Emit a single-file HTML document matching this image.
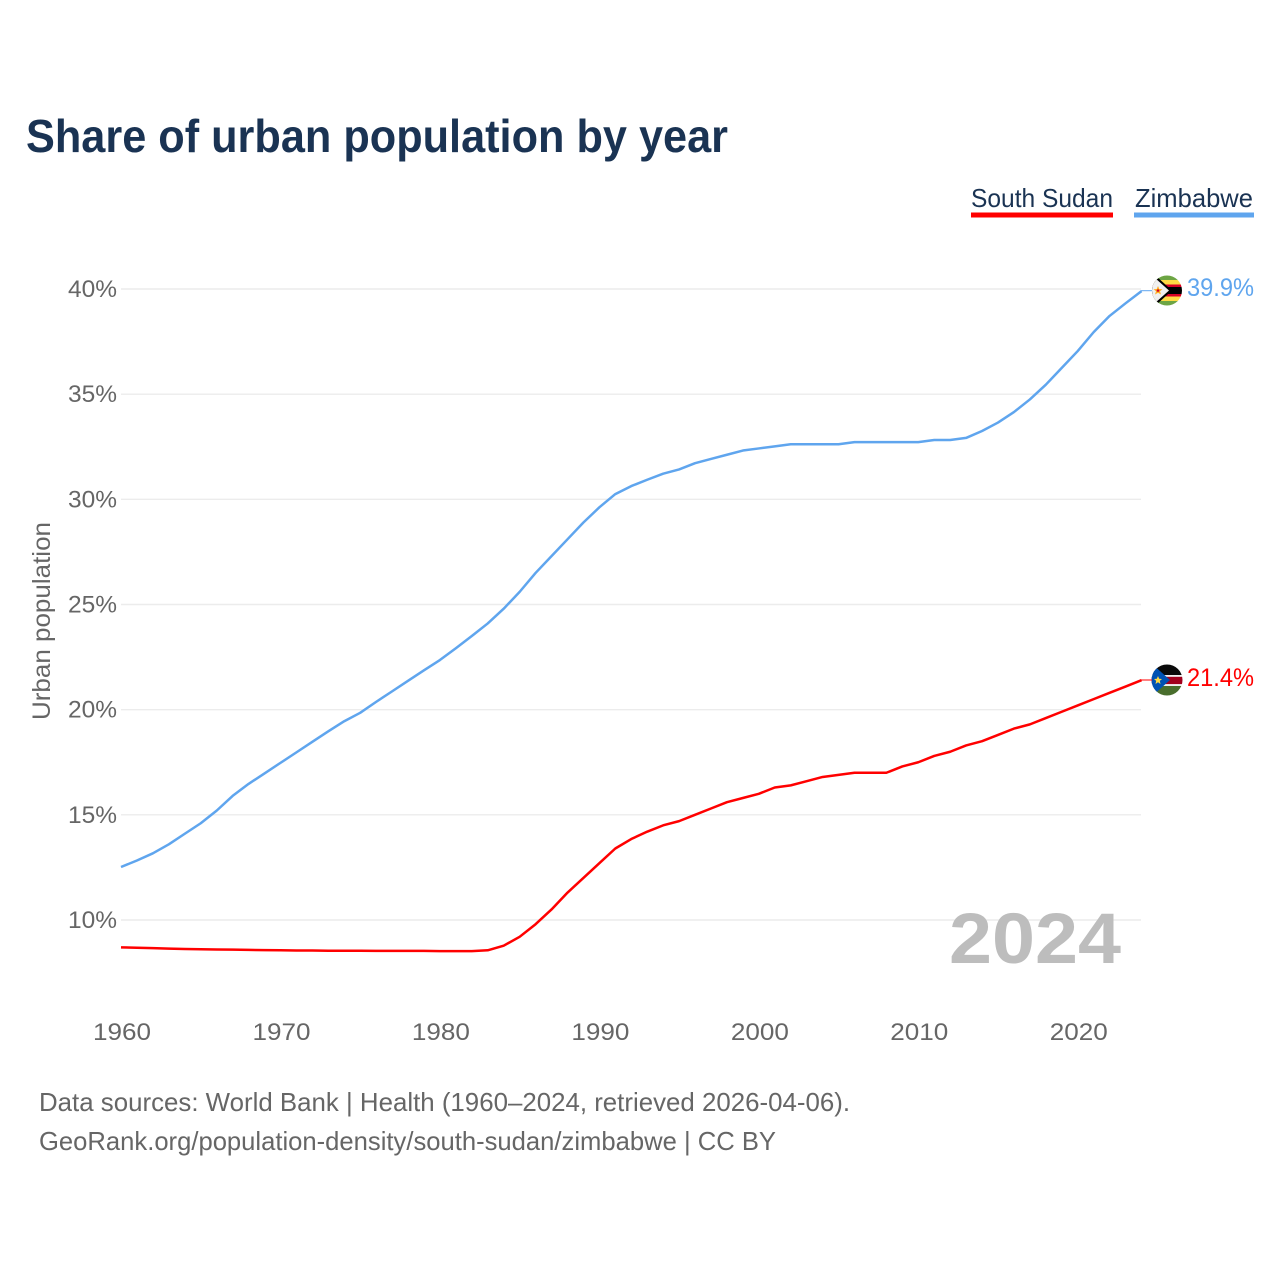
<!DOCTYPE html>
<html lang="en">
<head>
<meta charset="utf-8">
<title>Share of urban population by year</title>
<style>
html,body{margin:0;padding:0;background:#fff;width:1280px;height:1280px;overflow:hidden}
svg{display:block}
text{font-family:"Liberation Sans",sans-serif}
</style>
</head>
<body>
<svg id="chart" width="1280" height="1280" viewBox="0 0 1280 1280" xmlns="http://www.w3.org/2000/svg">
  <defs>
    <clipPath id="clip-zw"><circle cx="1167" cy="290.5" r="15"/></clipPath>
    <clipPath id="clip-ss"><circle cx="1167" cy="680" r="15.5"/></clipPath>
  </defs>
  <text x="26" y="152" font-size="46" font-weight="700" fill="#1a3353" textLength="702" lengthAdjust="spacingAndGlyphs">Share of urban population by year</text>

  <g>
    <g>
      <text x="971" y="207" font-size="26" fill="#1a3353" textLength="142" lengthAdjust="spacingAndGlyphs">South Sudan</text>
      <rect x="971" y="212.5" width="142" height="5" fill="#ff0000"/>
    </g>
    <g>
      <text x="1135" y="207" font-size="26" fill="#1a3353" textLength="118" lengthAdjust="spacingAndGlyphs">Zimbabwe</text>
      <rect x="1134" y="212.5" width="120" height="5" fill="#5fa5ee"/>
    </g>
  </g>

  <g id="grid"></g>
  <g id="yticks"></g>
  <g id="xticks"></g>

  <text transform="translate(50,720) rotate(-90)" x="0" y="0" font-size="25" fill="#666666" textLength="198" lengthAdjust="spacingAndGlyphs">Urban population</text>

  <text x="949" y="963" font-size="71" font-weight="700" fill="#bdbdbd" textLength="172" lengthAdjust="spacingAndGlyphs">2024</text>

  <g id="series"></g>

  <g clip-path="url(#clip-zw)">
    <rect x="1150" y="274" width="34" height="6" fill="#6da544"/>
    <rect x="1150" y="280" width="34" height="4.5" fill="#ffda44"/>
    <rect x="1150" y="284.5" width="34" height="2.5" fill="#d80027"/>
    <rect x="1150" y="287" width="34" height="7" fill="#000000"/>
    <rect x="1150" y="294" width="34" height="2.5" fill="#d80027"/>
    <rect x="1150" y="296.5" width="34" height="4.5" fill="#ffda44"/>
    <rect x="1150" y="301" width="34" height="6" fill="#6da544"/>
    <polygon points="1150,273 1156,276 1172,290.5 1156,305 1150,308" fill="#000000"/>
    <polygon points="1150,274 1155,278 1169,290.5 1155,303 1150,307" fill="#f0f0f0"/>
    <polygon points="1158,286 1159.3,289 1162.5,289.2 1160,291.2 1161,294.5 1158,292.7 1155,294.5 1156,291.2 1153.5,289.2 1156.7,289" fill="#ffb020"/>
    <circle cx="1158" cy="290.5" r="1.3" fill="#d80027"/>
  </g>
  <line x1="1141" y1="290.7" x2="1152" y2="290.7" stroke="#5fa5ee" stroke-width="1"/>
  <text x="1187" y="296" font-size="25" fill="#5fa5ee" textLength="67" lengthAdjust="spacingAndGlyphs">39.9%</text>

  <g clip-path="url(#clip-ss)">
    <rect x="1150" y="663" width="34" height="12" fill="#0a0a0a"/>
    <rect x="1150" y="675" width="34" height="1.8" fill="#f0f0f0"/>
    <rect x="1150" y="676.8" width="34" height="7.4" fill="#a2001d"/>
    <rect x="1150" y="684.2" width="34" height="1.8" fill="#f0f0f0"/>
    <rect x="1150" y="686" width="34" height="11" fill="#496e2d"/>
    <polygon points="1150,662 1170,680 1150,698" fill="#0052b4"/>
    <polygon points="1158,676 1159.2,678.8 1162,679 1159.8,680.9 1160.5,684 1158,682.3 1155.5,684 1156.2,680.9 1154,679 1156.8,678.8" fill="#ffda44"/>
  </g>
  <line x1="1141" y1="680" x2="1152" y2="680" stroke="#ff0000" stroke-width="1"/>
  <text x="1187" y="686" font-size="25" fill="#ff0000" textLength="67" lengthAdjust="spacingAndGlyphs">21.4%</text>

  <g>
    <text x="39" y="1111" font-size="26" fill="#666666" textLength="811" lengthAdjust="spacingAndGlyphs">Data sources: World Bank | Health (1960–2024, retrieved 2026-04-06).</text>
    <text x="39" y="1150" font-size="26" fill="#666666" textLength="737" lengthAdjust="spacingAndGlyphs">GeoRank.org/population-density/south-sudan/zimbabwe | CC BY</text>
  </g>
</svg>
<script>
const years = [1960,1961,1962,1963,1964,1965,1966,1967,1968,1969,1970,1971,1972,1973,1974,1975,1976,1977,1978,1979,1980,1981,1982,1983,1984,1985,1986,1987,1988,1989,1990,1991,1992,1993,1994,1995,1996,1997,1998,1999,2000,2001,2002,2003,2004,2005,2006,2007,2008,2009,2010,2011,2012,2013,2014,2015,2016,2017,2018,2019,2020,2021,2022,2023,2024];
const zimbabwe = [12.52,12.83,13.17,13.6,14.1,14.6,15.2,15.9,16.47,16.97,17.47,17.97,18.47,18.97,19.45,19.85,20.37,20.87,21.37,21.87,22.36,22.92,23.5,24.1,24.8,25.6,26.5,27.3,28.1,28.9,29.62,30.25,30.63,30.93,31.22,31.42,31.72,31.92,32.12,32.32,32.42,32.52,32.62,32.62,32.62,32.62,32.72,32.72,32.72,32.72,32.72,32.82,32.82,32.92,33.25,33.65,34.15,34.75,35.45,36.25,37.05,37.95,38.72,39.32,39.9];
const southSudan = [8.7,8.68,8.66,8.64,8.62,8.61,8.6,8.59,8.58,8.57,8.56,8.55,8.55,8.54,8.54,8.54,8.53,8.53,8.53,8.53,8.52,8.52,8.52,8.56,8.78,9.2,9.8,10.5,11.3,12.0,12.7,13.4,13.85,14.2,14.5,14.7,15.0,15.3,15.6,15.8,16.0,16.3,16.4,16.6,16.8,16.9,17.0,17.0,17.0,17.3,17.5,17.8,18.0,18.3,18.5,18.8,19.1,19.3,19.6,19.9,20.2,20.5,20.8,21.1,21.4];
const yTicks = [10,15,20,25,30,35,40];
const xTicks = [1960,1970,1980,1990,2000,2010,2020];

const NS = 'http://www.w3.org/2000/svg';
function xScale(year){ return 121 + (year - 1960) * (1020.5 / 64); }
function yScale(pct){ return 920 - (pct - 10) * (631 / 30); }

const gridG = document.getElementById('grid');
const yG = document.getElementById('yticks');
const xG = document.getElementById('xticks');
const seriesG = document.getElementById('series');

yTicks.forEach(function(t){
  const line = document.createElementNS(NS,'line');
  
  
  line.setAttribute('x1', 121);
  line.setAttribute('x2', 1141);
  line.setAttribute('y1', yScale(t));
  line.setAttribute('y2', yScale(t));
  line.setAttribute('stroke', '#ececec');
  line.setAttribute('stroke-width', '1.4');
  gridG.appendChild(line);

  const label = document.createElementNS(NS,'text');
  
  
  label.setAttribute('x', 68);
  label.setAttribute('y', yScale(t) + 8);
  label.setAttribute('font-size', '24');
  label.setAttribute('fill', '#666666');
  label.setAttribute('textLength', '49');
  label.setAttribute('lengthAdjust', 'spacingAndGlyphs');
  label.textContent = t + '%';
  yG.appendChild(label);
});

xTicks.forEach(function(t){
  const label = document.createElementNS(NS,'text');
  
  
  label.setAttribute('x', xScale(t) - 28);
  label.setAttribute('y', 1040);
  label.setAttribute('font-size', '24');
  label.setAttribute('fill', '#666666');
  label.setAttribute('textLength', '58');
  label.setAttribute('lengthAdjust', 'spacingAndGlyphs');
  label.textContent = t;
  xG.appendChild(label);
});

function pathFor(values){
  return values.map(function(v,i){
    return (i ? 'L' : 'M') + xScale(years[i]).toFixed(2) + ' ' + yScale(v).toFixed(2);
  }).join(' ');
}

const zwLine = document.createElementNS(NS,'path');


zwLine.setAttribute('d', pathFor(zimbabwe));
zwLine.setAttribute('fill', 'none');
zwLine.setAttribute('stroke', '#5fa5ee');
zwLine.setAttribute('stroke-width', '2.5');
zwLine.setAttribute('stroke-linejoin', 'round');
seriesG.appendChild(zwLine);

const ssLine = document.createElementNS(NS,'path');


ssLine.setAttribute('d', pathFor(southSudan));
ssLine.setAttribute('fill', 'none');
ssLine.setAttribute('stroke', '#ff0000');
ssLine.setAttribute('stroke-width', '2.5');
ssLine.setAttribute('stroke-linejoin', 'round');
seriesG.appendChild(ssLine);
</script>
</body>
</html>
